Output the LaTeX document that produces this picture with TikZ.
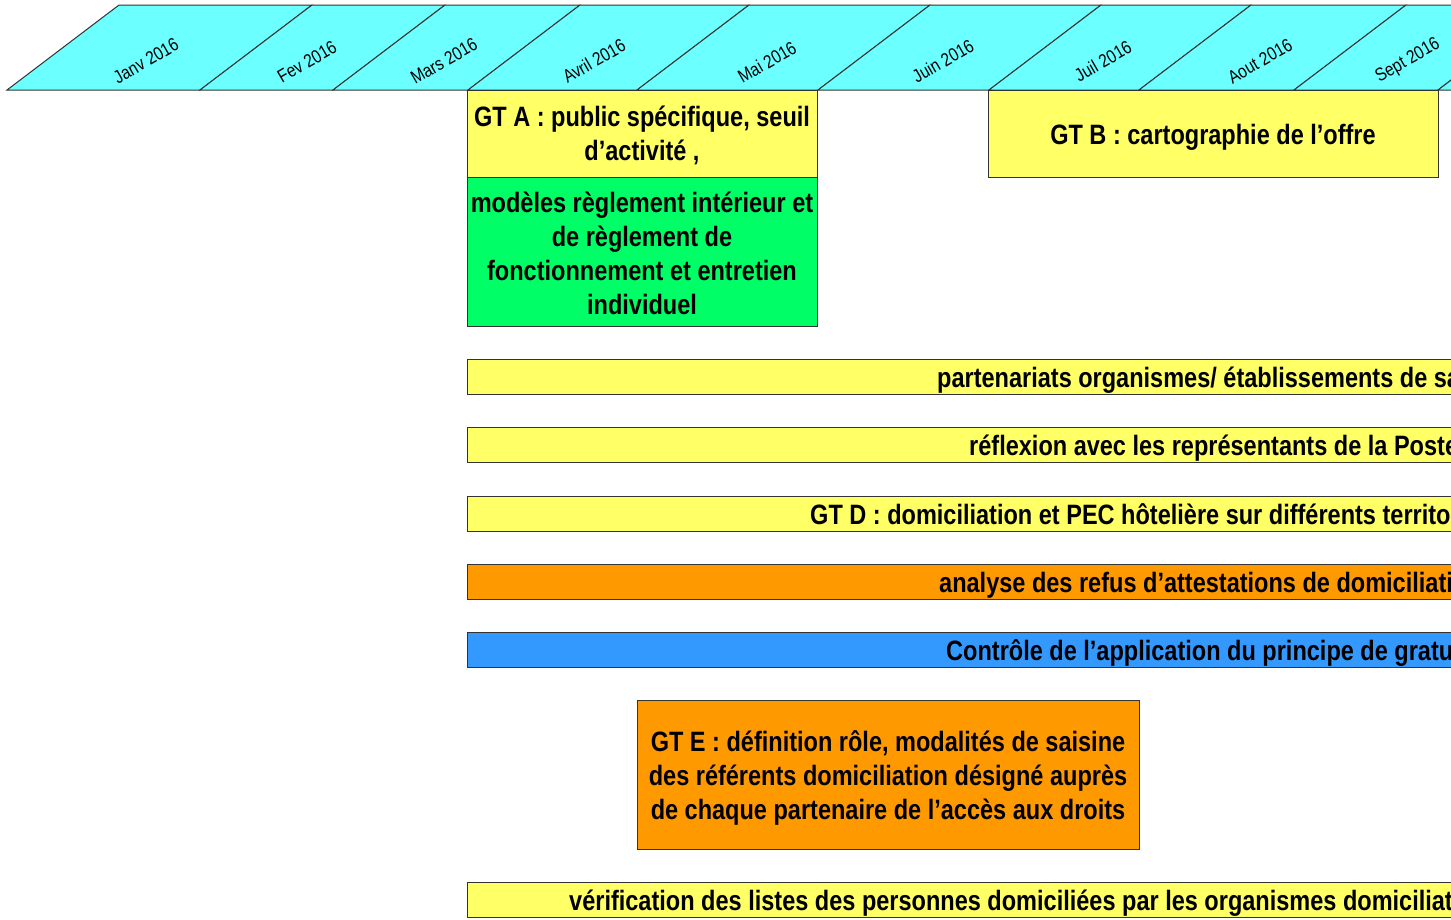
\documentclass[tikz,border=0pt]{standalone}
\usepackage{fontspec}
\setmainfont{Liberation Sans}[FakeStretch=0.84]
\definecolor{cyanb}{HTML}{6BFFFF}
\definecolor{yel}{HTML}{FFFF66}
\definecolor{grn}{HTML}{00FF66}
\definecolor{org}{HTML}{FF9900}
\definecolor{blu}{HTML}{3399FF}
\definecolor{edge}{HTML}{333333}
\begin{document}
\begin{tikzpicture}[x=1pt,y=-1pt,
  month/.style={fill=cyanb,draw=edge,line width=1pt},
  mlabel/.style={font=\fontsize{18.5}{22}\selectfont, rotate=30, inner sep=0pt},
  box/.style={draw=edge,line width=1pt,inner sep=0pt},
  boxtext/.style={inner sep=0pt,align=center,
    font=\bfseries\fontsize{28}{34}\selectfont},
  bar/.style={draw=edge,line width=1pt,anchor=north west,inner sep=0pt,
    minimum width=1300,minimum height=35},
  bartext/.style={anchor=base west,inner sep=0pt,
    font=\bfseries\fontsize{28}{34}\selectfont}]
\useasboundingbox (0,0) rectangle (1451,919);
\clip (0,0) rectangle (1451,919);
% month band
\foreach \a/\b in {7/200,200/333,333/468,468/637,637/818,818/989,989/1139,1139/1294,1294/1438,1438/1590}
  \draw[month] (\a,90) -- ({\a+112},5) -- ({\b+112},5) -- (\b,90) -- cycle;
\node[mlabel] (m1) at (146,61) {Janv 2016};
\node[mlabel] (m2) at (307,62) {Fev 2016};
\node[mlabel] (m3) at (444,61) {Mars 2016};
\node[mlabel] (m4) at (594,61) {Avril 2016};
\node[mlabel] (m5) at (767,62) {Mai 2016};
\node[mlabel] (m6) at (943,61) {Juin 2016};
\node[mlabel] (m7) at (1103,61) {Juil 2016};
\node[mlabel] (m8) at (1260,61) {Aout 2016};
\node[mlabel] (m9) at (1408,61) {Sept 2016};
% boxes
\node[box,fill=yel,minimum width=350,minimum height=87] (gta) at (642,133.5) {};
\node[boxtext] (gtat) at ([yshift=-2pt]gta.center)
  {GT A : public spécifique, seuil\\d’activité ,};
\node[box,fill=grn,minimum width=350,minimum height=149] (gtag) at (642,251.5) {};
\node[boxtext] (gtagt) at ([yshift=-1.5pt]gtag.center)
  {modèles règlement intérieur et\\de règlement de\\fonctionnement et entretien\\individuel};
\node[box,fill=yel,minimum width=450,minimum height=87] (gtb) at (1213,133.5) {};
\node[boxtext] (gtbt) at ([yshift=-4pt]gtb.center)
  {GT B : cartographie de l’offre};
\node[box,fill=org,minimum width=502,minimum height=149] (gte) at (888,774.5) {};
\node[boxtext] (gtet) at ([yshift=-3pt]gte.center)
  {GT E : définition rôle, modalités de saisine\\des référents domiciliation désigné auprès\\de chaque partenaire de l’accès aux droits};
% bars
\node[bar,fill=yel] (b1) at (467,359) {};
\node[bartext] (t1) at (937,387) {partenariats organismes/ établissements de sa};
\node[bar,fill=yel] (b2) at (467,427) {};
\node[bartext] (t2) at (969,455) {réflexion avec les représentants de la Poste};
\node[bar,fill=yel] (b3) at (467,496) {};
\node[bartext] (t3) at (810,524) {GT D : domiciliation et PEC hôtelière sur différents territo};
\node[bar,fill=org] (b4) at (467,564) {};
\node[bartext] (t4) at (939,592) {analyse des refus d’attestations de domiciliati};
\node[bar,fill=blu] (b5) at (467,632) {};
\node[bartext] (t5) at (946,660) {Contrôle de l’application du principe de gratu};
\node[bar,fill=yel] (b6) at (467,882) {};
\node[bartext] (t6) at (569,910) {vérification des listes des personnes domiciliées par les organismes domiciliat};
\end{tikzpicture}
\end{document}
